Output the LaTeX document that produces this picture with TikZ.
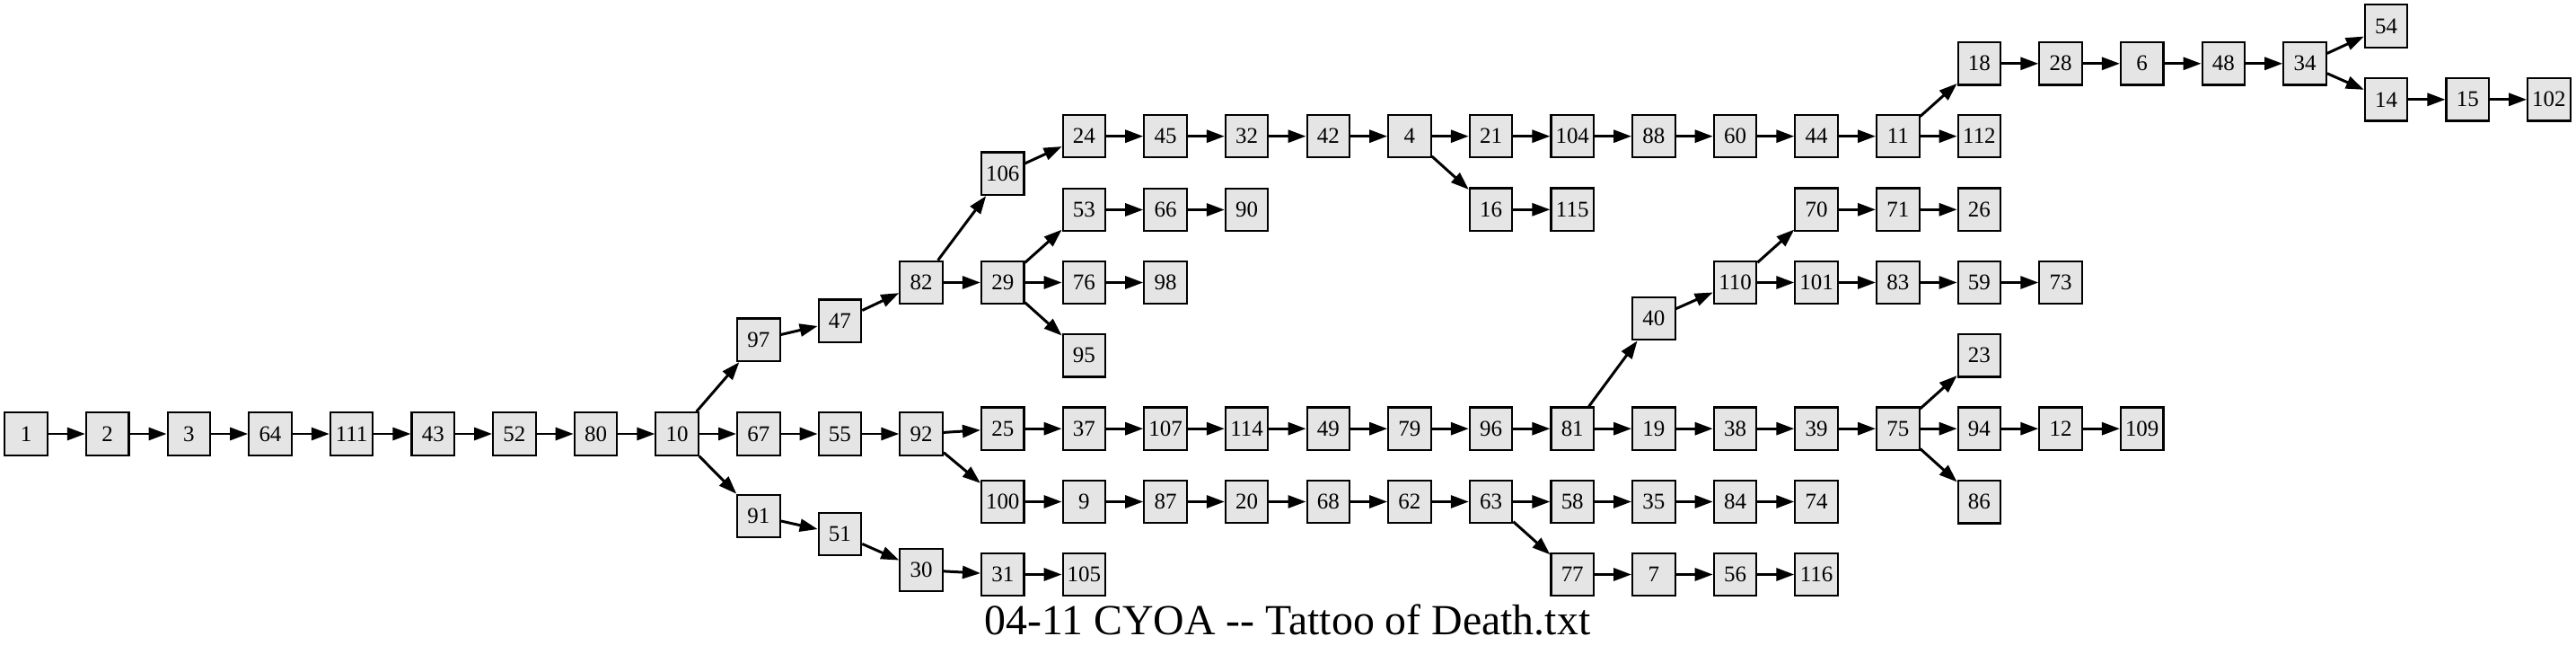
\documentclass[tikz,border=0pt]{standalone}
\usepackage{fontspec}
\setmainfont{Liberation Serif}
\usepackage{tikz}
\usetikzlibrary{arrows.meta,positioning}

\definecolor{nodegray}{gray}{0.9}
\newcommand{\rankgap}{0.9064cm}

\tikzset{
  passage/.style={draw, fill=nodegray, line width=0.6pt, minimum size=0.475cm,
    inner sep=0pt, font=\fontsize{7.1}{8}\selectfont}
}

\begin{document}
\begin{tikzpicture}[->,>={Triangle[length=0.2cm,width=0.14cm]},line width=0.85pt,
  on grid,node distance=\rankgap]
\useasboundingbox (0,0) rectangle (28.69,-7.28);

% main line
\node	[passage]	(p1)	at (0.2906,-4.83)	{1};
\node	[passage]	(p2)	[right=of p1]	{2};
\node	[passage]	(p3)	[right=of p2]	{3};
\node	[passage]	(p64)	[right=of p3]	{64};
\node	[passage]	(p111)	[right=of p64]	{111};
\node	[passage]	(p43)	[right=of p111]	{43};
\node	[passage]	(p52)	[right=of p43]	{52};
\node	[passage]	(p80)	[right=of p52]	{80};
\node	[passage]	(p10)	[right=of p80]	{10};

% upper branch
\node	[passage]	(p97)	[above right=1.047cm and \rankgap of p10]	{97};
\node	[passage]	(p47)	[above right=0.211cm and \rankgap of p97]	{47};
\node	[passage]	(p82)	[above right=0.427cm and \rankgap of p47]	{82};
\node	[passage]	(p106)	[above right=1.212cm and \rankgap of p82]	{106};
\node	[passage]	(p24)	[above right=0.416cm and \rankgap of p106]	{24};
\node	[passage]	(p45)	[right=of p24]	{45};
\node	[passage]	(p32)	[right=of p45]	{32};
\node	[passage]	(p42)	[right=of p32]	{42};
\node	[passage]	(p4)	[right=of p42]	{4};
\node	[passage]	(p21)	[right=of p4]	{21};
\node	[passage]	(p104)	[right=of p21]	{104};
\node	[passage]	(p88)	[right=of p104]	{88};
\node	[passage]	(p60)	[right=of p88]	{60};
\node	[passage]	(p44)	[right=of p60]	{44};
\node	[passage]	(p11)	[right=of p44]	{11};
\node	[passage]	(p112)	[right=of p11]	{112};
\node	[passage]	(p18)	[above right=0.809cm and \rankgap of p11]	{18};
\node	[passage]	(p28)	[right=of p18]	{28};
\node	[passage]	(p6)	[right=of p28]	{6};
\node	[passage]	(p48)	[right=of p6]	{48};
\node	[passage]	(p34)	[right=of p48]	{34};
\node	[passage]	(p54)	[above right=0.416cm and \rankgap of p34]	{54};
\node	[passage]	(p14)	[below right=0.40cm and \rankgap of p34]	{14};
\node	[passage]	(p15)	[right=of p14]	{15};
\node	[passage]	(p102)	[right=of p15]	{102};
\node	[passage]	(p16)	[below right=0.816cm and \rankgap of p4]	{16};
\node	[passage]	(p115)	[right=of p16]	{115};
\node	[passage]	(p29)	[right=of p82]	{29};
\node	[passage]	(p53)	[above right=0.81cm and \rankgap of p29]	{53};
\node	[passage]	(p66)	[right=of p53]	{66};
\node	[passage]	(p90)	[right=of p66]	{90};
\node	[passage]	(p76)	[right=of p29]	{76};
\node	[passage]	(p98)	[right=of p76]	{98};
\node	[passage]	(p95)	[below right=0.813cm and \rankgap of p29]	{95};

% middle branch
\node	[passage]	(p67)	[right=of p10]	{67};
\node	[passage]	(p55)	[right=of p67]	{55};
\node	[passage]	(p92)	[right=of p55]	{92};
\node	[passage]	(p25)	[above right=0.058cm and \rankgap of p92]	{25};
\node	[passage]	(p37)	[right=of p25]	{37};
\node	[passage]	(p107)	[right=of p37]	{107};
\node	[passage]	(p114)	[right=of p107]	{114};
\node	[passage]	(p49)	[right=of p114]	{49};
\node	[passage]	(p79)	[right=of p49]	{79};
\node	[passage]	(p96)	[right=of p79]	{96};
\node	[passage]	(p81)	[right=of p96]	{81};
\node	[passage]	(p40)	[above right=1.226cm and \rankgap of p81]	{40};
\node	[passage]	(p110)	[above right=0.401cm and \rankgap of p40]	{110};
\node	[passage]	(p70)	[above right=0.812cm and \rankgap of p110]	{70};
\node	[passage]	(p71)	[right=of p70]	{71};
\node	[passage]	(p26)	[right=of p71]	{26};
\node	[passage]	(p101)	[right=of p110]	{101};
\node	[passage]	(p83)	[right=of p101]	{83};
\node	[passage]	(p59)	[right=of p83]	{59};
\node	[passage]	(p73)	[right=of p59]	{73};
\node	[passage]	(p19)	[right=of p81]	{19};
\node	[passage]	(p38)	[right=of p19]	{38};
\node	[passage]	(p39)	[right=of p38]	{39};
\node	[passage]	(p75)	[right=of p39]	{75};
\node	[passage]	(p23)	[above right=0.814cm and \rankgap of p75]	{23};
\node	[passage]	(p94)	[right=of p75]	{94};
\node	[passage]	(p12)	[right=of p94]	{12};
\node	[passage]	(p109)	[right=of p12]	{109};
\node	[passage]	(p86)	[below right=0.816cm and \rankgap of p75]	{86};
\node	[passage]	(p100)	[below right=0.755cm and \rankgap of p92]	{100};
\node	[passage]	(p9)	[right=of p100]	{9};
\node	[passage]	(p87)	[right=of p9]	{87};
\node	[passage]	(p20)	[right=of p87]	{20};
\node	[passage]	(p68)	[right=of p20]	{68};
\node	[passage]	(p62)	[right=of p68]	{62};
\node	[passage]	(p63)	[right=of p62]	{63};
\node	[passage]	(p58)	[right=of p63]	{58};
\node	[passage]	(p35)	[right=of p58]	{35};
\node	[passage]	(p84)	[right=of p35]	{84};
\node	[passage]	(p74)	[right=of p84]	{74};
\node	[passage]	(p77)	[below right=0.81cm and \rankgap of p63]	{77};
\node	[passage]	(p7)	[right=of p77]	{7};
\node	[passage]	(p56)	[right=of p7]	{56};
\node	[passage]	(p116)	[right=of p56]	{116};

% lower branch
\node	[passage]	(p91)	[below right=0.915cm and \rankgap of p10]	{91};
\node	[passage]	(p51)	[below right=0.20cm and \rankgap of p91]	{51};
\node	[passage]	(p30)	[below right=0.40cm and \rankgap of p51]	{30};
\node	[passage]	(p31)	[below right=0.05cm and \rankgap of p30]	{31};
\node	[passage]	(p105)	[right=of p31]	{105};

\node	[font=\fontsize{13.6}{15}\selectfont,anchor=base]	(title)	at (14.34,-7.067)
	{04-11 CYOA -{}- Tattoo of Death.txt};

\path
	(p1)	edge	(p2)
	(p2)	edge	(p3)
	(p3)	edge	(p64)
	(p64)	edge	(p111)
	(p111)	edge	(p43)
	(p43)	edge	(p52)
	(p52)	edge	(p80)
	(p80)	edge	(p10)
	(p10)	edge	(p97)
	(p10)	edge	(p67)
	(p10)	edge	(p91)
	(p97)	edge	(p47)
	(p47)	edge	(p82)
	(p82)	edge	(p106)
	(p82)	edge	(p29)
	(p106)	edge	(p24)
	(p24)	edge	(p45)
	(p45)	edge	(p32)
	(p32)	edge	(p42)
	(p42)	edge	(p4)
	(p4)	edge	(p21)
	(p4)	edge	(p16)
	(p21)	edge	(p104)
	(p104)	edge	(p88)
	(p88)	edge	(p60)
	(p60)	edge	(p44)
	(p44)	edge	(p11)
	(p11)	edge	(p18)
	(p11)	edge	(p112)
	(p18)	edge	(p28)
	(p28)	edge	(p6)
	(p6)	edge	(p48)
	(p48)	edge	(p34)
	(p34)	edge	(p54)
	(p34)	edge	(p14)
	(p14)	edge	(p15)
	(p15)	edge	(p102)
	(p16)	edge	(p115)
	(p29)	edge	(p53)
	(p29)	edge	(p76)
	(p29)	edge	(p95)
	(p53)	edge	(p66)
	(p66)	edge	(p90)
	(p76)	edge	(p98)
	(p67)	edge	(p55)
	(p55)	edge	(p92)
	(p92)	edge	(p25)
	(p92)	edge	(p100)
	(p25)	edge	(p37)
	(p37)	edge	(p107)
	(p107)	edge	(p114)
	(p114)	edge	(p49)
	(p49)	edge	(p79)
	(p79)	edge	(p96)
	(p96)	edge	(p81)
	(p81)	edge	(p40)
	(p81)	edge	(p19)
	(p40)	edge	(p110)
	(p110)	edge	(p70)
	(p110)	edge	(p101)
	(p70)	edge	(p71)
	(p71)	edge	(p26)
	(p101)	edge	(p83)
	(p83)	edge	(p59)
	(p59)	edge	(p73)
	(p19)	edge	(p38)
	(p38)	edge	(p39)
	(p39)	edge	(p75)
	(p75)	edge	(p23)
	(p75)	edge	(p94)
	(p75)	edge	(p86)
	(p94)	edge	(p12)
	(p12)	edge	(p109)
	(p100)	edge	(p9)
	(p9)	edge	(p87)
	(p87)	edge	(p20)
	(p20)	edge	(p68)
	(p68)	edge	(p62)
	(p62)	edge	(p63)
	(p63)	edge	(p58)
	(p63)	edge	(p77)
	(p58)	edge	(p35)
	(p35)	edge	(p84)
	(p84)	edge	(p74)
	(p77)	edge	(p7)
	(p7)	edge	(p56)
	(p56)	edge	(p116)
	(p91)	edge	(p51)
	(p51)	edge	(p30)
	(p30)	edge	(p31)
	(p31)	edge	(p105)
;
\end{tikzpicture}
\end{document}
